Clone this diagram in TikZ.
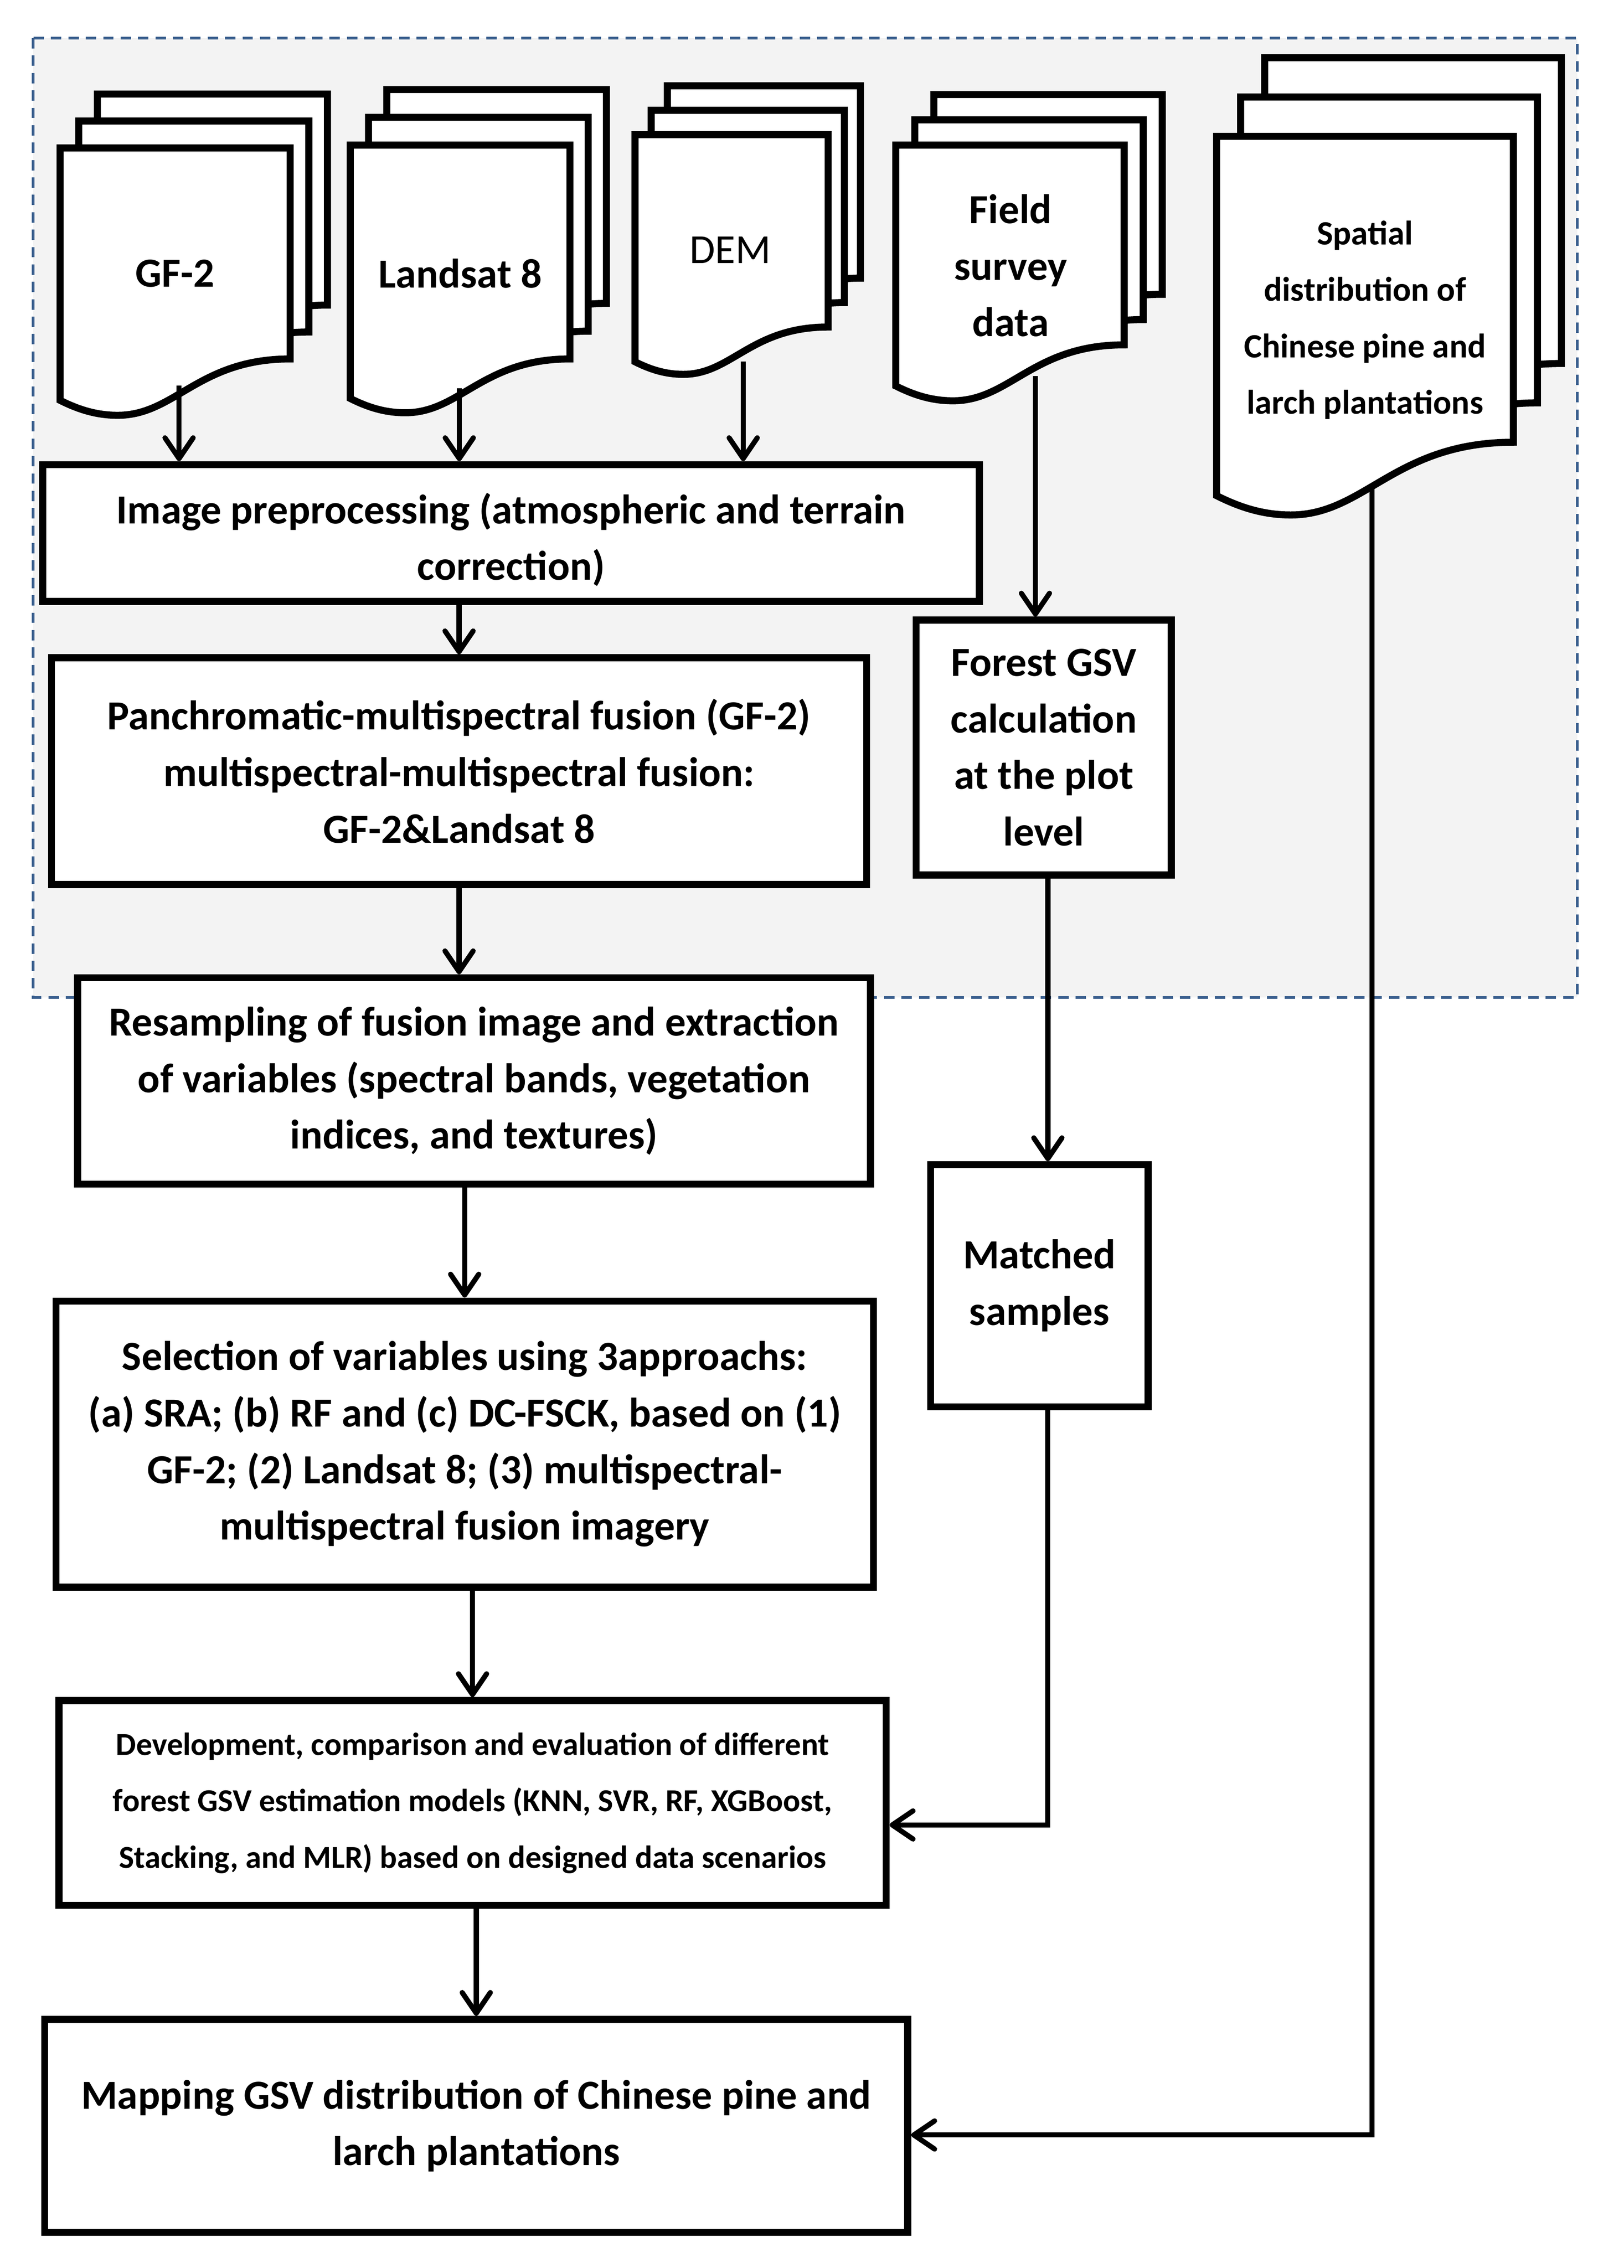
\documentclass[tikz,border=0pt]{standalone}
\usepackage{fontspec}
\setmainfont{Carlito}
\usetikzlibrary{arrows.meta, calc}

\definecolor{PanelGray}{HTML}{F3F3F3}
\definecolor{DashBlue}{HTML}{3A5F8E}

\tikzset{
    box/.style={rectangle, draw=black, fill=white, line width=0.85mm,
                align=center, inner sep=0pt,
                font=\bfseries\fontsize{14.2}{19.4}\selectfont},
    docline/.style={draw=black, fill=white, line width=0.85mm},
    doclabel/.style={align=center, font=\bfseries\fontsize{14.2}{19.4}\selectfont},
    flow/.style={-{Straight Barb[length=2.5mm, width=3.4mm, round]}, line width=0.62mm},
}

% one page of a document symbol: top-left corner, width, right height
\newcommand{\docpage}[4]{%
    \pgfmathsetmacro{\docX}{#1}
    \pgfmathsetmacro{\docY}{#2}
    \pgfmathsetmacro{\docR}{#2+#4}
    \pgfmathsetmacro{\docL}{#2+#4+0.18*#3}
    \pgfmathsetmacro{\docT}{#2+#4+0.245*#3}
    \draw[docline] (\docX,\docY) -- ({\docX+#3},\docY) -- ({\docX+#3},\docR)
        .. controls ({\docX+0.6*#3},\docR) and ({\docX+0.5*#3},\docT) .. ({\docX+0.25*#3},\docT)
        .. controls ({\docX+0.15*#3},\docT) and ({\docX+0.07*#3},{\docL+0.035*#3}) .. (\docX,\docL)
        -- cycle;
}
% stack of three pages, back ones shifted by (dx,-dy)
\newcommand{\docstack}[6]{%
    \docpage{#1+2*#5}{#2-2*#6}{#3}{#4}
    \docpage{#1+#5}{#2-#6}{#3}{#4}
    \docpage{#1}{#2}{#3}{#4}
}

\begin{document}
\begin{tikzpicture}[x=0.5cm, y=-0.5cm]
    \useasboundingbox (0,0) rectangle (39.17,54.72);

    % Shaded data panel
    \draw[DashBlue, fill=PanelGray, line width=0.33mm, dash pattern=on 1.25mm off 0.85mm]
        (0.80,0.92) rectangle (38.05,24.07);

    % Input documents
    \docstack{1.45}{3.57}{5.55}{5.09}{0.45}{0.65}
    \docstack{8.45}{3.50}{5.30}{5.16}{0.44}{0.67}
    \docstack{15.32}{3.25}{4.66}{4.64}{0.39}{0.59}
    \docstack{21.61}{3.50}{5.51}{4.82}{0.46}{0.61}
    \docstack{29.35}{3.29}{7.16}{7.38}{0.58}{0.95}

    \node[doclabel] (gf2) at (4.22,6.60) {GF-2};
    \node[doclabel] (landsat) at (11.10,6.60) {Landsat 8};
    \node[align=center, font=\fontsize{14.2}{19.4}\selectfont] (dem) at (17.62,6.03) {DEM};
    \node[doclabel] (field) at (24.38,6.41) {Field\\survey\\data};
    \node[doclabel, font=\bfseries\fontsize{11.7}{19.4}\selectfont] (spatial) at (32.93,7.72)
        {Spatial\\distribution of\\Chinese pine and\\larch plantations};

    \coordinate (gf2out) at (4.32,9.30);
    \coordinate (lsout) at (11.08,9.37);
    \coordinate (demout) at (17.93,8.72);
    \coordinate (fieldout) at (24.98,9.07);
    \coordinate (spout) at (33.10,11.68);

    % Processing steps
    \node[box, minimum width=11.30cm, minimum height=1.65cm] (prep) at (12.33,12.86)
        {\rule{0pt}{15pt}Image preprocessing (atmospheric and terrain\\correction)};
    \node[box, minimum width=9.835cm, minimum height=2.735cm] (fusion) at (11.075,18.605)
        {Panchromatic-multispectral fusion (GF-2)\\multispectral-multispectral fusion:\\GF-2\&Landsat 8};
    \node[box, minimum width=3.08cm, minimum height=3.075cm] (gsv) at (25.18,18.035)
        {Forest GSV\\calculation\\at the plot\\level};
    \node[box, minimum width=9.565cm, minimum height=2.49cm] (resamp) at (11.435,26.08)
        {Resampling of fusion image and extraction\\of variables (spectral bands, vegetation\\indices, and textures)};
    \node[box, minimum width=2.625cm, minimum height=2.92cm] (matched) at (25.075,31.02)
        {Matched\\samples};
    \node[box, minimum width=9.86cm, minimum height=3.45cm] (select) at (11.21,34.84)
        {Selection of variables using 3approachs:\\(a) SRA; (b) RF and (c) DC-FSCK, based on (1)\\GF-2; (2) Landsat 8; (3) multispectral-\\multispectral fusion imagery};
    \node[box, minimum width=9.98cm, minimum height=2.47cm,
          font=\bfseries\fontsize{11}{19.4}\selectfont] (develop) at (11.40,43.50)
        {Development, comparison and evaluation of different\\forest GSV estimation models (KNN, SVR, RF, XGBoost,\\Stacking, and MLR) based on designed data scenarios};
    \node[box, minimum width=10.41cm, minimum height=2.57cm] (mapping) at (11.49,51.29)
        {Mapping GSV distribution of Chinese pine and\\larch plantations};

    % Arrows
    \draw[flow] (gf2out) -- (gf2out |- prep.north);
    \draw[flow] (lsout) -- (lsout |- prep.north);
    \draw[flow] (demout) -- (demout |- prep.north);
    \draw[flow] (fieldout) -- (fieldout |- gsv.north);
    \draw[flow] (fusion.north |- prep.south) -- (fusion.north);
    \draw[flow] (fusion.south) -- (fusion.south |- resamp.north);
    \draw[flow] (select.north |- resamp.south) -- (select.north);
    \draw[flow] (develop.north |- select.south) -- (develop.north);
    \draw[flow] (mapping.north |- develop.south) -- (mapping.north);
    \draw[flow] ($(gsv.south)+(0.1,0)$) -- ($(gsv.south |- matched.north)+(0.1,0)$);
    \draw[flow] ($(matched.south)+(0.2,0)$) |- ($(develop.east)+(0,0.53)$);
    \draw[flow] (spout) |- ($(mapping.east)+(0,0.22)$);
\end{tikzpicture}
\end{document}
